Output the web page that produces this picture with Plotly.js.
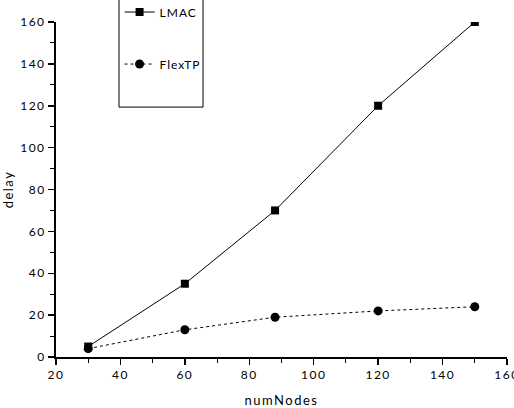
<!DOCTYPE html>
<html>
<head>
<meta charset="utf-8">
<script src="https://cdn.plot.ly/plotly-3.0.1.min.js"></script>
<style>
  html, body { margin: 0; padding: 0; background: #fff; }
  #chart { width: 514px; height: 408px; }
  #chart text { letter-spacing: 1.5px; }
  #chart .legend text { letter-spacing: 1px; }
</style>
</head>
<body>
<div id="chart"></div>
<script>
// Number of nodes and measured delay for each protocol
const numNodes = [30, 60, 88, 120, 150];
const lmacDelay = [5, 35, 70, 120, 160];
const flexTpDelay = [4, 13, 19, 22, 24];

const seriesNames = ['LMAC', 'FlexTP'];

const traces = [
  {
    x: numNodes, y: lmacDelay, name: seriesNames[0],
    type: 'scatter', mode: 'lines+markers', legendgroup: 'a',
    line: { color: '#000', width: 1, dash: 'solid' },
    marker: { symbol: 'square', size: 8, color: '#000' },
    cliponaxis: true
  },
  {
    x: numNodes, y: flexTpDelay, name: seriesNames[1],
    type: 'scatter', mode: 'lines+markers', legendgroup: 'b',
    line: { color: '#000', width: 1, dash: 'dot' },
    marker: { symbol: 'circle', size: 9, color: '#000' },
    cliponaxis: true
  }
];

const fontFamily = 'Lato, "Open Sans", sans-serif';
const tickFont = { family: fontFamily, size: 12, color: '#000' };

const layout = {
  width: 514, height: 408,
  margin: { l: 56, r: 7, t: 22, b: 51, autoexpand: false },
  paper_bgcolor: '#fff', plot_bgcolor: '#fff',
  showlegend: true,
  legend: {
    x: 0.141, y: 1.073, xanchor: 'left', yanchor: 'top',
    bgcolor: 'rgba(0,0,0,0)', borderwidth: 0,
    tracegroupgap: 33,
    entrywidth: 90, entrywidthmode: 'pixels',
    font: { family: fontFamily, size: 12, color: '#000' }
  },
  xaxis: {
    range: [20, 160], tick0: 20, dtick: 20,
    showgrid: false, zeroline: false,
    showline: true, linecolor: '#000', linewidth: 2,
    ticks: 'outside', ticklen: 6, tickwidth: 1.5, tickcolor: '#000',
    ticklabeloverflow: 'allow',
    minor: { dtick: 10, ticks: 'outside', ticklen: 4, tickwidth: 1, tickcolor: '#000' },
    tickfont: tickFont,
    title: { text: 'numNodes', font: { family: fontFamily, size: 13, color: '#000' }, standoff: 14 }
  },
  yaxis: {
    range: [0, 160], tick0: 0, dtick: 20,
    showgrid: false, zeroline: false,
    showline: true, linecolor: '#000', linewidth: 2,
    ticks: 'outside', ticklen: 6, tickwidth: 1.5, tickcolor: '#000',
    minor: { dtick: 10, ticks: 'outside', ticklen: 4, tickwidth: 1, tickcolor: '#000' },
    tickfont: tickFont,
    title: { text: 'delay', font: { family: fontFamily, size: 13, color: '#000' }, standoff: 12 }
  },
  shapes: [
    { type: 'rect', xref: 'paper', yref: 'paper',
      x0: 0.1397, x1: 0.326, y0: 0.746, y1: 1.1,
      line: { color: '#000', width: 1 }, fillcolor: 'rgba(0,0,0,0)', layer: 'above' }
  ]
};

Plotly.newPlot('chart', traces, layout, { displayModeBar: false, staticPlot: true });
</script>
</body>
</html>
